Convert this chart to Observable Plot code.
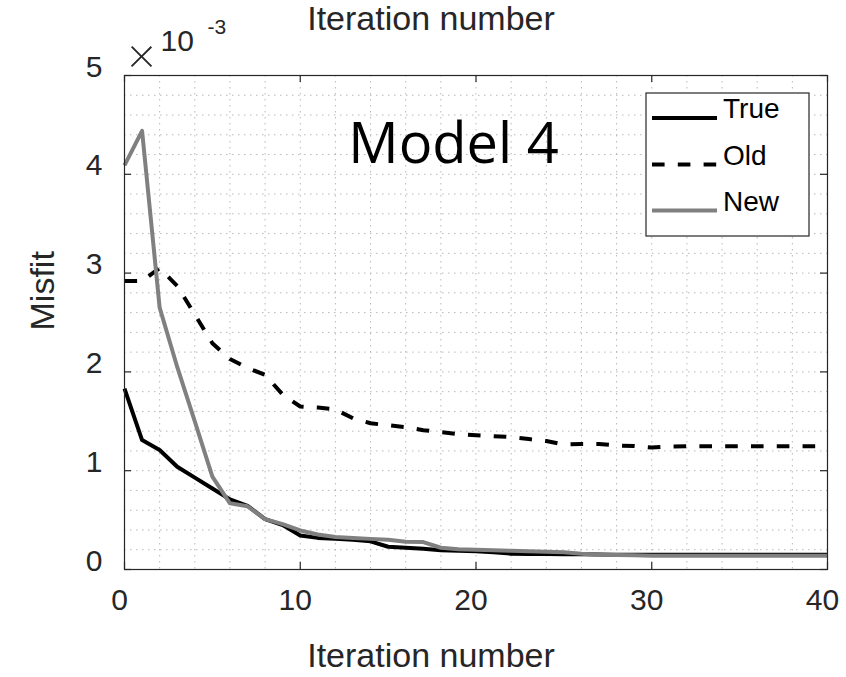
<!DOCTYPE html>
<html>
<head>
<meta charset="utf-8">
<script src="https://cdn.jsdelivr.net/npm/d3@7"></script>
<script src="https://cdn.jsdelivr.net/npm/@observablehq/plot@0.6"></script>
<style>
  html, body { margin: 0; padding: 0; background: #fff; }
  #chart svg { display: block; }
</style>
</head>
<body>
<div id="chart"></div>
<script>
// Iteration numbers (x) and misfit values, in units of 10^-3
const iterations = d3.range(0, 41);

const misfitTrue = [
  1.83, 1.31, 1.21, 1.04, 0.93, 0.82, 0.71, 0.645, 0.51, 0.45,
  0.345, 0.32, 0.31, 0.30, 0.285, 0.23, 0.22, 0.21, 0.195, 0.19,
  0.185, 0.175, 0.16, 0.158, 0.156, 0.155, 0.155, 0.153, 0.15, 0.15,
  0.15, 0.15, 0.15, 0.15, 0.15, 0.15, 0.15, 0.15, 0.15, 0.15, 0.15
];

const misfitOld = [
  2.92, 2.92, 3.05, 2.87, 2.58, 2.29, 2.13, 2.04, 1.97, 1.77,
  1.65, 1.64, 1.62, 1.53, 1.48, 1.46, 1.44, 1.41, 1.39, 1.37,
  1.36, 1.35, 1.34, 1.32, 1.30, 1.265, 1.27, 1.27, 1.255, 1.25,
  1.235, 1.245, 1.248, 1.248, 1.248, 1.248, 1.248, 1.248, 1.248, 1.248, 1.248
];

const misfitNew = [
  4.09, 4.44, 2.65, 2.05, 1.50, 0.94, 0.67, 0.64, 0.51, 0.46,
  0.395, 0.355, 0.33, 0.32, 0.31, 0.30, 0.28, 0.278, 0.22, 0.205,
  0.20, 0.195, 0.19, 0.185, 0.18, 0.175, 0.16, 0.15, 0.148, 0.145,
  0.14, 0.14, 0.14, 0.14, 0.14, 0.14, 0.14, 0.14, 0.14, 0.14, 0.14
];

const xTicks = [0, 10, 20, 30, 40];
const yTicks = [0, 1, 2, 3, 4, 5];
const xMinor = d3.range(2, 40, 2);
const yMinor = d3.range(1, 25).map(i => i / 5);

const seriesNames = ["True", "Old", "New"];
const seriesColors = ["#000000", "#000000", "#808080"];
const seriesDash = [null, "12.6,13.2", null];

const tableOf = values => iterations.map((it, i) => ({it, v: values[i]}));
const seriesData = [misfitTrue, misfitOld, misfitNew].map(tableOf);

const axisColor = "#262626";
const fontAxis = "'Liberation Sans', Arial, Helvetica, sans-serif";

const chart = Plot.plot({
  width: 846,
  height: 677,
  marginLeft: 124,
  marginRight: 19,
  marginTop: 75,
  marginBottom: 108,
  style: {fontFamily: fontAxis, background: "#fff", color: axisColor},
  x: {domain: [0, 40], axis: null},
  y: {domain: [0, 5], axis: null},
  marks: [
    // dotted grid
    Plot.ruleX(xMinor, {x: d => d, stroke: "#b8b8b8", strokeWidth: 1, strokeDasharray: "1.5,4.5"}),
    Plot.ruleY(yMinor, {y: d => d, stroke: "#b8b8b8", strokeWidth: 1, strokeDasharray: "1.5,4.5"}),

    // series
    ...seriesData.map((data, k) => Plot.line(data, {
      x: "it", y: "v",
      stroke: seriesColors[k],
      strokeWidth: 4,
      strokeDasharray: seriesDash[k] ?? undefined,
      strokeLinejoin: "round",
      strokeLinecap: "butt"
    })),

    // box and inward ticks
    Plot.frame({stroke: axisColor, strokeWidth: 1.2}),
    Plot.tickX(xTicks, {x: d => d, insetTop: 487, stroke: axisColor, strokeWidth: 1.2}),
    Plot.tickX(xTicks, {x: d => d, insetBottom: 487, stroke: axisColor, strokeWidth: 1.2}),
    Plot.tickY(yTicks, {y: d => d, insetRight: 696, stroke: axisColor, strokeWidth: 1.2}),
    Plot.tickY(yTicks, {y: d => d, insetLeft: 696, stroke: axisColor, strokeWidth: 1.2}),

    // tick labels
    Plot.text(xTicks, {x: d => d, text: d => String(d), frameAnchor: "bottom", lineAnchor: "bottom",
      dy: 40, dx: -5, fontSize: 30, fill: axisColor}),
    Plot.text(yTicks, {y: d => d, text: d => String(d), frameAnchor: "left", lineAnchor: "bottom",
      textAnchor: "end", dx: -22, dy: 1, fontSize: 30, fill: axisColor}),

    // exponent of the y axis
    Plot.text(["\u00d7"], {frameAnchor: "top-left", textAnchor: "middle", lineAnchor: "bottom",
      dx: 17, dy: -3, fontSize: 50, fontFamily: "Lato, sans-serif", fontWeight: 300, fill: axisColor}),
    Plot.text(["10"], {frameAnchor: "top-left", textAnchor: "start", lineAnchor: "bottom",
      dx: 36, dy: -25, fontSize: 30, fill: axisColor}),
    Plot.text(["-3"], {frameAnchor: "top-left", textAnchor: "start", lineAnchor: "bottom",
      dx: 83, dy: -42, fontSize: 21, fill: axisColor}),

    // axis labels
    Plot.text(["Iteration number"], {frameAnchor: "bottom", lineAnchor: "bottom",
      dx: -45, dy: 97, fontSize: 34, fill: axisColor}),
    Plot.text(["Iteration number"], {frameAnchor: "top", lineAnchor: "bottom",
      dx: -45, dy: -46, fontSize: 34, fill: axisColor}),
    Plot.text(["Misfit"], {frameAnchor: "left", lineAnchor: "bottom", rotate: -90,
      dx: -71, dy: 8, fontSize: 34, fill: axisColor}),

    // panel title
    Plot.text(["Model 4"], {frameAnchor: "top-left", textAnchor: "middle", lineAnchor: "bottom",
      dx: 329, dy: 87, fontSize: 56, fontFamily: "'Open Sans', sans-serif", fill: "#000"})
  ]
});

// legend box in the upper right of the axes
const svg = d3.select(chart);
const legend = svg.append("g").attr("class", "legend");
legend.append("rect")
  .attr("x", 646).attr("y", 93).attr("width", 163).attr("height", 143)
  .attr("fill", "#fff").attr("stroke", axisColor).attr("stroke-width", 1.2);
const legendRows = [118, 164.5, 210.5];
seriesNames.forEach((name, k) => {
  const y = legendRows[k];
  legend.append("line")
    .attr("x1", 652).attr("x2", 717).attr("y1", y).attr("y2", y)
    .attr("stroke", seriesColors[k]).attr("stroke-width", 4)
    .attr("stroke-dasharray", seriesDash[k]);
  legend.append("text")
    .attr("x", 723).attr("y", y)
    .attr("text-anchor", "start")
    .attr("font-family", fontAxis).attr("font-size", 28).attr("fill", "#000")
    .text(name);
});

document.getElementById("chart").appendChild(chart);
</script>
</body>
</html>
